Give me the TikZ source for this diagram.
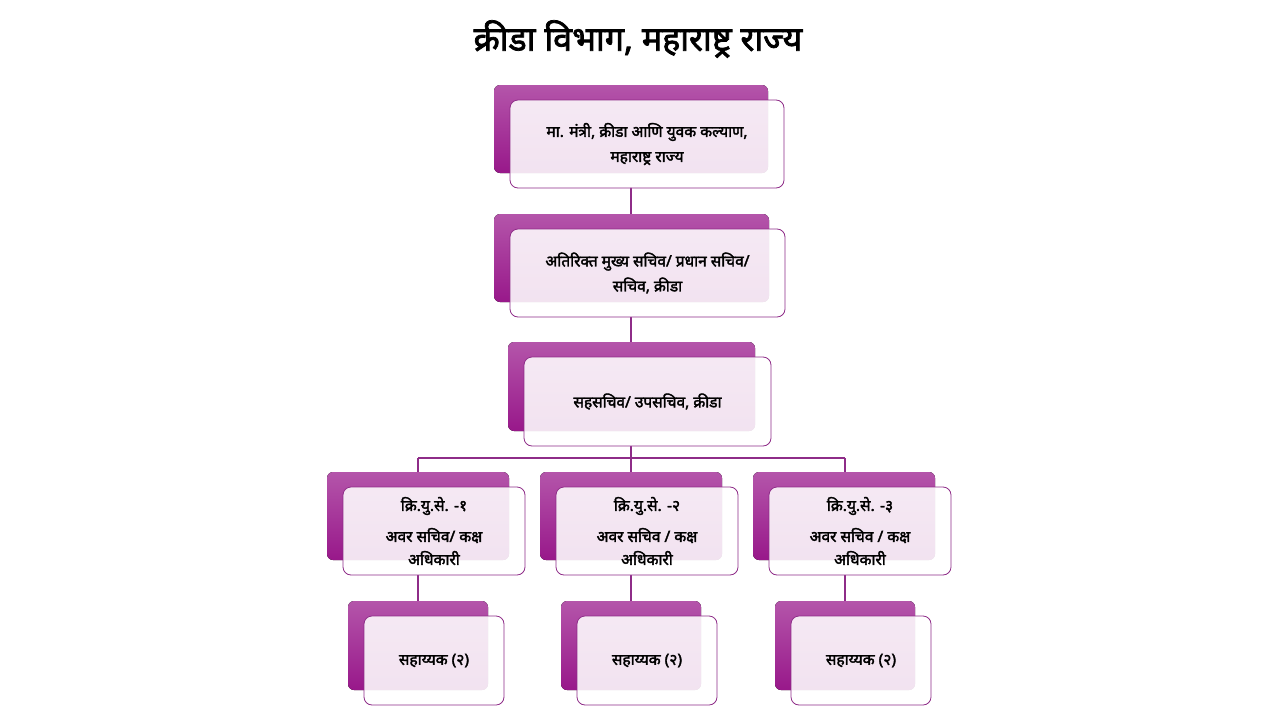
\documentclass[tikz,border=0pt]{standalone}
\usepackage{fontspec}
\newfontfamily\dev[Script=Devanagari,FakeBold=2.2]{Noto Sans}
\definecolor{pl}{HTML}{B455AA}
\definecolor{pd}{HTML}{98188A}
\definecolor{bd}{HTML}{8E2C88}
\tikzset{
 back/.style={rounded corners=6pt, top color=pl, bottom color=pd, draw=none},
 front/.style={rounded corners=8pt, fill=white, fill opacity=0.88, draw=bd, draw opacity=1, line width=0.8pt},
 txt/.style={font=\dev\fontsize{15.5}{25}\selectfont, align=center, text opacity=1},
 con/.style={draw=bd, line width=1.2pt}
}
\newcommand{\orgbox}[6]{% name, bx1,by1, w,h, text
 \fill[back] (#2,#3) rectangle ++(#4,#5);
 \draw[front] (#2+16,#3+15) rectangle ++(#4,#5) node[midway,txt] (#1) {#6};
}
\begin{document}
\begin{tikzpicture}[x=1pt,y=-1pt]
\useasboundingbox (0,0) rectangle (1280,720);
\node[font=\dev\fontsize{34}{38}\selectfont] (title) at (638,39) {क्रीडा विभाग, महाराष्ट्र राज्य};
\coordinate (a1) at (631,187); \coordinate (a2) at (631,229);
\coordinate (b1) at (631,317); \coordinate (b2) at (631,357);
\coordinate (c1) at (631,446); \coordinate (c2) at (631,458);
\coordinate (l) at (418,458); \coordinate (r) at (845,458);
\coordinate (l4) at (418,487); \coordinate (m4) at (631,487); \coordinate (r4) at (845,487);
\coordinate (l5) at (418,575); \coordinate (m5) at (631,575); \coordinate (r5) at (845,575);
\coordinate (l6) at (418,616); \coordinate (m6) at (631,616); \coordinate (r6) at (845,616);
\draw[con] (a1)--(a2) (b1)--(b2) (c1)--(c2) (l)--(r) (l)--(l4) (c2)--(m4) (r)--(r4)
 (l5)--(l6) (m5)--(m6) (r5)--(r6);
\orgbox{n1}{494}{85}{274}{88}{मा. मंत्री, क्रीडा आणि युवक कल्याण,\\महाराष्ट्र राज्य}
\orgbox{n2}{494}{214}{275}{88}{अतिरिक्त मुख्य सचिव/ प्रधान सचिव/\\सचिव, क्रीडा}
\orgbox{n3}{508}{342}{247}{89}{सहसचिव/ उपसचिव, क्रीडा}
\orgbox{n4}{327}{472}{182}{88}{क्रि.यु.से. -१\\[6pt]अवर सचिव/ कक्ष\\[-2pt]अधिकारी}
\orgbox{n5}{540}{472}{182}{88}{क्रि.यु.से. -२\\[6pt]अवर सचिव / कक्ष\\[-2pt]अधिकारी}
\orgbox{n6}{753}{472}{182}{88}{क्रि.यु.से. -३\\[6pt]अवर सचिव / कक्ष\\[-2pt]अधिकारी}
\orgbox{n7}{348}{601}{140}{89}{सहाय्यक (२)}
\orgbox{n8}{561}{601}{140}{89}{सहाय्यक (२)}
\orgbox{n9}{775}{601}{140}{89}{सहाय्यक (२)}
\end{tikzpicture}
\end{document}
